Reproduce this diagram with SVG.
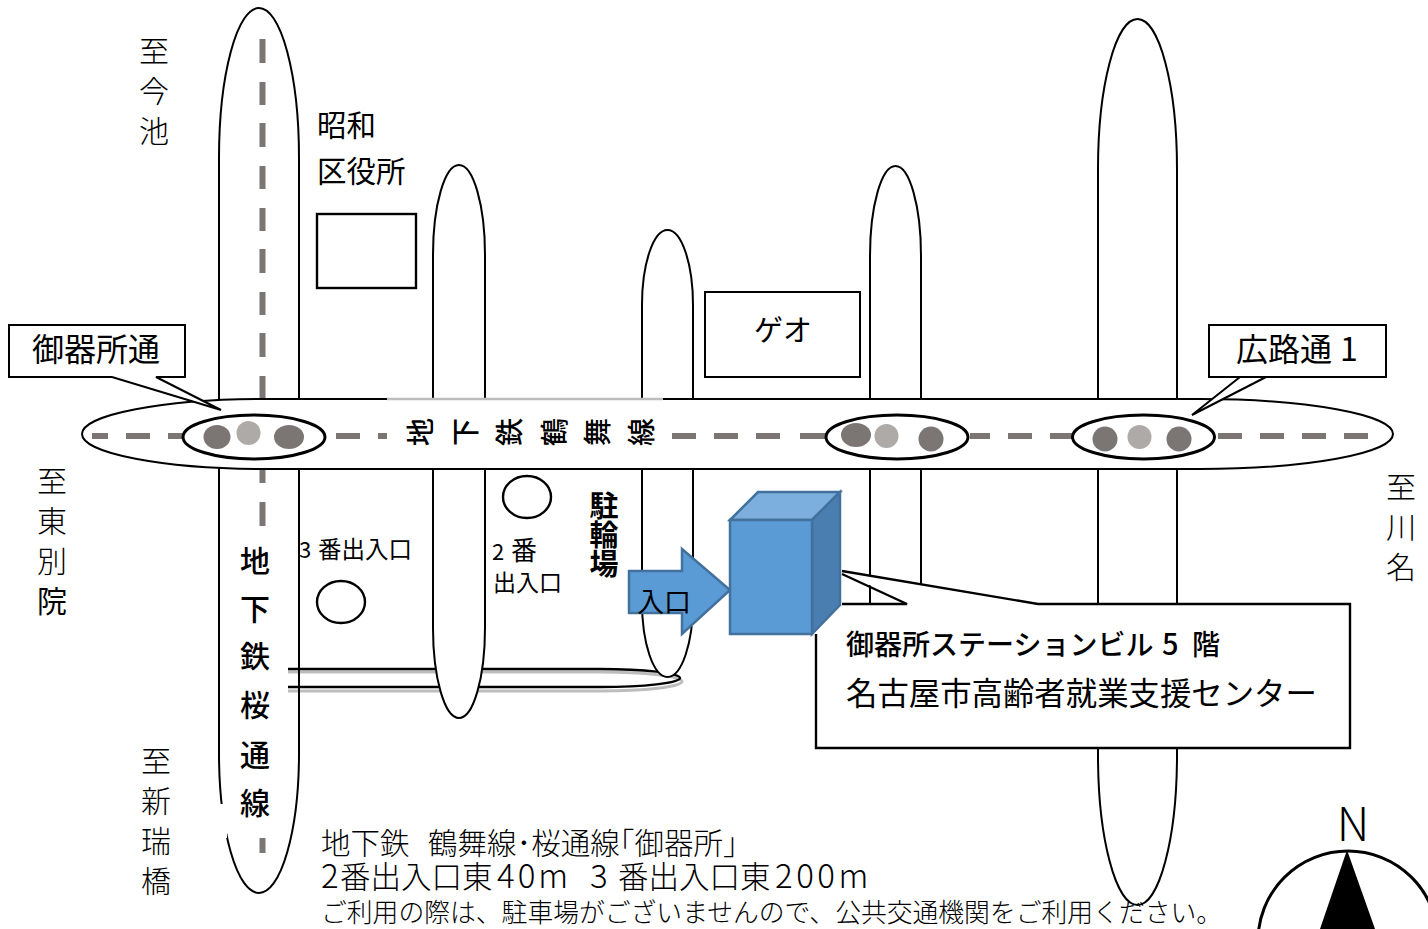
<svg xmlns="http://www.w3.org/2000/svg" width="1428" height="929" viewBox="0 0 1428 929">
<style>
.r{fill:#fff;stroke:#000;stroke-width:2}
.b{fill:#fff;stroke:#000;stroke-width:2.4}
.o{fill:#fff;stroke:#000;stroke-width:3}
.d{fill:none;stroke:#7b7674;stroke-width:6}
.t{font-family:"Noto Sans CJK JP","Noto Sans",sans-serif;fill:#000}
.l{font-weight:400;font-size:29.500px}
.s{font-size:30px;text-anchor:middle;font-weight:300}
.c1{fill:#7b7674}.c2{fill:#aeaaa8}
.f{fill:#5b9bd5;stroke:#41719c;stroke-width:2.5}
</style>
<rect width="1428" height="929" fill="#fff"/>
<g id="road-sakura"><path class="r" d="M219 158A40 150 0 0 1 299 158V753A40 140 0 0 1 219 753Z"/><rect x="214" y="804" width="13" height="34" fill="#fff"/></g>
<g id="connectors">
<path d="M288 672H600A82 9.500 0 0 1 600 691H288" fill="none" stroke="#bdbdbd" stroke-width="3"/>
<path d="M288 669H600A80 9 0 0 1 600 687H288" fill="none" stroke="#000" stroke-width="2.400"/>
<path d="M299 665V695" stroke="#000" stroke-width="2"/>
</g>
<g id="road-b"><path class="r" d="M433 255A26 90 0 0 1 485 255V628A26 90 0 0 1 433 628Z"/></g>
<g id="road-c"><path class="r" d="M642 305A25.500 75 0 0 1 693 305V602A25.500 75 0 0 1 642 602Z"/></g>
<g id="road-d"><path class="r" d="M870 256A25.500 90 0 0 1 921 256V640H870Z"/></g>
<g id="road-e"><path class="r" d="M1098 169A39.500 150 0 0 1 1177 169V755A39.500 150 0 0 1 1098 755Z"/></g>
<g id="dash-v"><path class="d" d="M262.500 39V63M262.500 82V105M262.500 123V147M262.500 166V189M262.500 208V231M262.500 249V273M262.500 292V315M262.500 333V357M262.500 376V398M262.500 460V483M262.500 502V526M262.500 838V853"/></g>
<g id="road-tsurumai"><path class="r" d="M265 399H1200A193 35 0 0 1 1200 469H265A183 35 0 0 1 265 399Z"/><path d="M387 399H663" stroke="#bdbdbd" stroke-width="2.500"/></g>
<g id="dash-h"><path class="d" d="M92 436H108M126 436H150M168 436H183M336 436H360M378 436H387M672 436H696M714 436H738M756 436H780M800 436H826M970 436H990M1008 436H1032M1050 436H1072M1218 436H1242M1260 436H1284M1302 436H1326M1344 436H1368"/></g>
<g id="signal-1"><ellipse class="o" cx="254" cy="437" rx="71" ry="22"/><ellipse class="c1" cx="217" cy="437" rx="13.500" ry="12"/><circle class="c2" cx="248.500" cy="433" r="12"/><ellipse class="c1" cx="289" cy="437" rx="15" ry="12"/></g>
<g id="signal-2"><ellipse class="o" cx="897" cy="437" rx="71" ry="22"/><ellipse class="c1" cx="856" cy="435" rx="15" ry="12"/><ellipse class="c2" cx="886.500" cy="436" rx="12" ry="12"/><circle class="c1" cx="931" cy="439" r="12.500"/></g>
<g id="signal-3"><ellipse class="o" cx="1143.500" cy="437" rx="71" ry="22"/><circle class="c1" cx="1105" cy="439" r="12.500"/><ellipse class="c2" cx="1139.500" cy="437" rx="12" ry="12"/><circle class="c1" cx="1179" cy="439" r="12.500"/></g>
<g id="callout-gokisho"><path d="M9 325H185V377H156L221 410L112 377H9Z" fill="#fff" stroke="#000" stroke-width="2"/><text class="t" x="32" y="361" font-size="32">御器所通</text></g>
<g id="callout-hirokoji"><path d="M1209 325H1386V377H1240L1192 415L1266 377H1209Z" fill="#fff" stroke="#000" stroke-width="2"/><text class="t" x="1236" y="361" font-size="32">広路通 <tspan x="1340">1</tspan></text></g>
<g id="building-city"><rect class="b" x="317" y="214" width="99" height="74"/><text class="t l" x="317" y="136">昭和<tspan x="317" y="182">区役所</tspan></text></g>
<g id="building-geo"><rect x="705" y="292" width="155" height="85" fill="#fff" stroke="#000" stroke-width="2"/><text class="t" x="754" y="341" font-size="29" font-weight="400">ゲオ</text></g>
<g id="exit-3"><ellipse class="b" cx="341" cy="602" rx="24" ry="21"/><text class="t" x="299" y="558" font-size="22">3 <tspan x="318" font-size="23.500">番出入口</tspan></text></g>
<g id="exit-2"><ellipse class="b" cx="527" cy="497" rx="24" ry="21"/><text class="t" x="492" y="560" font-size="22">2 <tspan x="511" font-size="26">番</tspan><tspan x="493" y="591" font-size="23">出入口</tspan></text></g>
<g id="bicycle"><text class="t" text-anchor="middle" font-size="29" font-weight="700" x="604" y="517">駐<tspan x="604" y="546">輪</tspan><tspan x="604" y="575">場</tspan></text></g>
<g id="callout-center"><path d="M816 634V748H1350V604H1038L842 571L907 604H842" fill="#fff"/><path d="M816 634V748H1350V604H1038L842 571M842 574L907 604H842" fill="none" stroke="#000" stroke-width="2.400"/><text class="t" x="846" y="655" font-size="28" font-weight="500">御器所ステーションビル <tspan x="1162" font-size="29">5</tspan> <tspan x="1192">階</tspan><tspan x="846" y="705" font-size="31.400" font-weight="400">名古屋市高齢者就業支援センター</tspan></text></g>
<g id="arrow"><path class="f" d="M629 571H682V549L730 590L682 634V613H629Z"/><text class="t" x="637" y="612" font-size="27" font-weight="400">入口</text></g>
<g id="building"><path class="f" style="fill:#7cafde" d="M730 520L758 492H840L812 520Z"/><path class="f" style="fill:#4a7eb0" d="M812 520L840 492V605L812 634Z"/><rect class="f" x="730" y="520" width="82" height="114"/></g>
<g id="labels">
<text class="t s" x="154" y="62">至<tspan x="154" y="102">今</tspan><tspan x="154" y="142">池</tspan></text>
<text class="t s" x="52" y="492">至<tspan x="52" y="532">東</tspan><tspan x="52" y="572">別</tspan><tspan x="52" y="612" font-weight="400" style="font-weight:400">院</tspan></text>
<text class="t s" x="156" y="772">至<tspan x="156" y="812">新</tspan><tspan x="156" y="852">瑞</tspan><tspan x="156" y="892">橋</tspan></text>
<text class="t s" x="1401" y="498">至<tspan x="1401" y="538">川</tspan><tspan x="1401" y="578">名</tspan></text>
<text class="t s" style="font-weight:500" x="255" y="572">地<tspan x="255" y="620">下</tspan><tspan x="255" y="667">鉄</tspan><tspan x="255" y="716">桜</tspan><tspan x="255" y="766">通</tspan><tspan x="255" y="814">線</tspan></text>
<g class="t" font-size="28" text-anchor="middle" font-weight="500">
<text transform="translate(421 432) rotate(-90)" y="10">地</text><text transform="translate(466 432) rotate(-90)" y="10">下</text><text transform="translate(510 432) rotate(-90)" y="10">鉄</text><text transform="translate(555 432) rotate(-90)" y="10">鶴</text><text transform="translate(598 432) rotate(-90)" y="10">舞</text><text transform="translate(642 432) rotate(-90)" y="10">線</text></g></g>
<g id="info"><text class="t" font-weight="300"><tspan x="321" y="854" font-size="29.500">地下鉄</tspan> <tspan x="428" y="854" font-size="29.500">鶴舞線･桜通線｢御器所｣</tspan> <tspan x="321" y="888" font-size="33">2</tspan><tspan x="340" y="888" font-size="30.500">番出入口東</tspan> <tspan x="497" y="888" font-size="33" letter-spacing="3">40m</tspan> <tspan x="590" y="888" font-size="33">3</tspan> <tspan x="618" y="888" font-size="30.500">番出入口東</tspan> <tspan x="775" y="888" font-size="33" letter-spacing="3.500">200m</tspan> <tspan x="321" y="922" font-size="25.800">ご利用の際は、駐車場がございませんので、公共交通機関をご利用ください。</tspan></text></g>
<g id="north"><circle cx="1348" cy="941" r="90" fill="none" stroke="#000" stroke-width="3"/><path d="M1347 850L1375 929H1320Z"/><text class="t" x="1353" y="841" text-anchor="middle" font-size="46" font-weight="300">N</text></g>
</svg>
